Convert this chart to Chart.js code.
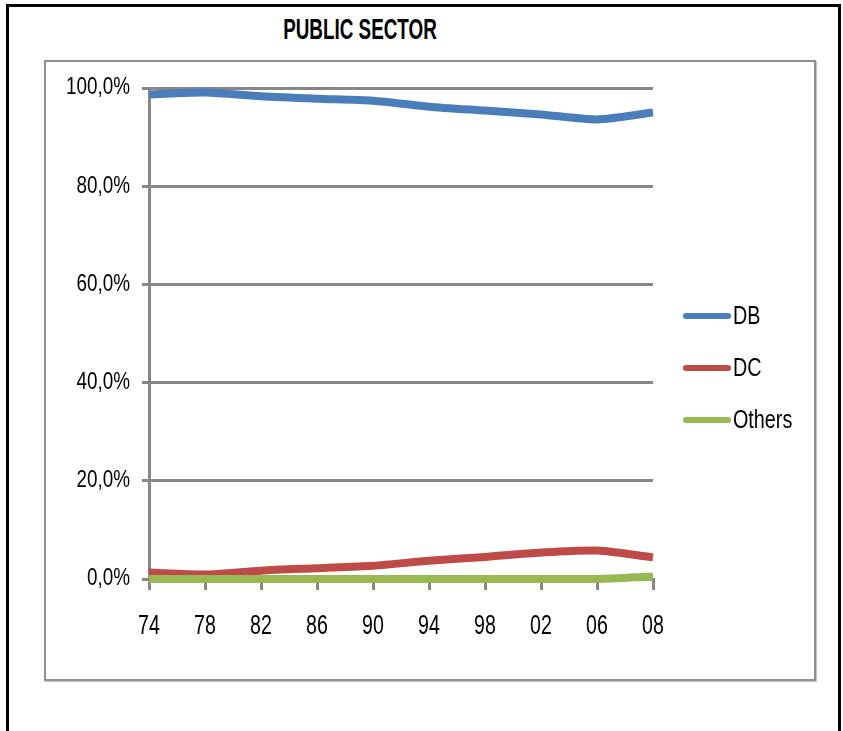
<!DOCTYPE html>
<html>
<head>
<meta charset="utf-8">
<title>Public sector</title>
<script src="https://cdn.jsdelivr.net/npm/chart.js@4.4.1/dist/chart.umd.min.js"></script>
<style>
	body { margin: 0; background: #fff; }
	#page { position: relative; width: 843px; height: 731px; overflow: hidden; }
	#frame { position: absolute; left: 6px; top: 4px; width: 829px; height: 800px; border: 3px solid #000; }
	#box { position: absolute; left: 44px; top: 60px; width: 768px; height: 617px; border: 2px solid #8e8e8e; box-shadow: 1px 1px 1px #c8c8c8; }
	#title {
		position: absolute; left: 0; width: 720px; top: 12px; text-align: center;
		font-family: "Liberation Sans", Arial, sans-serif;
		font-weight: bold; font-size: 29px; line-height: 34px; color: #000;
		transform: scaleX(0.65); transform-origin: 360px 0;
	}
	#chart { position: absolute; left: 0; top: 0; }
</style>
</head>
<body>
<div id="page">
	<div id="frame"></div>
	<div id="box"></div>
	<div id="title">PUBLIC SECTOR</div>
	<canvas id="chart" width="843" height="731"></canvas>
</div>
<script>
/*  Share of public sector plans by type, 1974-2008  */

const years = ['74', '78', '82', '86', '90', '94', '98', '02', '06', '08'];
const seriesNames = ['DB', 'DC', 'Others'];
const dbValues = [98.7, 99.1, 98.3, 97.8, 97.4, 96.2, 95.4, 94.6, 93.6, 95.0];
const dcValues = [1.3, 0.9, 1.7, 2.2, 2.7, 3.7, 4.5, 5.4, 5.8, 4.4];
const otherValues = [0, 0, 0, 0, 0, 0, 0, 0, 0, 0.5];
const yTicks = [0, 20, 40, 60, 80, 100];

const colors = ['#4a7ebb', '#be4b48', '#98b954'];
const font = '"Liberation Sans", Arial, sans-serif';
const gridColor = '#878787';

function pct(v) {
	return v.toFixed(1).replace('.', ',') + '%';
}

// condensed text: plain sans squeezed horizontally
function narrowText(ctx, text, x, y, size, squeeze, align) {
	ctx.save();
	ctx.font = size + 'px ' + font;
	ctx.textAlign = align;
	ctx.textBaseline = 'middle';
	ctx.fillStyle = '#000';
	ctx.translate(x, y);
	ctx.scale(squeeze, 1);
	ctx.fillText(text, 0, 0);
	ctx.restore();
}

// tick labels
const narrowTicks = {
	id: 'narrowTicks',
	afterDraw(chart) {
		let ctx = chart.ctx;
		let xs = chart.scales.x;
		let ys = chart.scales.y;
		ys.ticks.forEach(function (t) {
			narrowText(ctx, pct(t.value), ys.right - 19, ys.getPixelForValue(t.value), 23, 0.82, 'right');
		});
		xs.getLabels().forEach(function (lbl, i) {
			narrowText(ctx, lbl, xs.getPixelForTick(i), xs.top + 47, 28, 0.7, 'center');
		});
	}
};

// legend on the right, line swatch followed by the series name
const sideLegend = {
	id: 'sideLegend',
	afterDraw(chart) {
		let ctx = chart.ctx;
		chart.data.datasets.forEach(function (ds, i) {
			let y = 316 + i * 52;
			ctx.save();
			ctx.lineCap = 'round';
			ctx.lineWidth = 6;
			ctx.strokeStyle = ds.borderColor;
			ctx.beginPath();
			ctx.moveTo(686, y);
			ctx.lineTo(728, y);
			ctx.stroke();
			ctx.restore();
			narrowText(ctx, ds.label, 733, y + 1, 25, 0.79, 'left');
		});
	}
};

let series = [dbValues, dcValues, otherValues];

new Chart(document.getElementById('chart').getContext('2d'), {
	type: 'line',
	data: {
		labels: years,
		datasets: series.map(function (vals, i) {
			return {
				label: seriesNames[i],
				data: vals,
				borderColor: colors[i],
				backgroundColor: colors[i],
				borderWidth: 8,
				pointRadius: 0,
				tension: 0.25,
				clip: false,
				order: 2 - i
			};
		})
	},
	options: {
		responsive: false,
		animation: false,
		devicePixelRatio: 1,
		layout: { padding: { left: 0, right: 190, top: 88, bottom: 60 } },
		plugins: {
			legend: { display: false },
			tooltip: { enabled: false }
		},
		scales: {
			x: {
				offset: false,
				afterFit: function (scale) { scale.height = 92; },
				grid: { drawOnChartArea: false, color: gridColor, lineWidth: 3, tickLength: 11 },
				border: { color: gridColor, width: 3 },
				ticks: { display: false, autoSkip: false }
			},
			y: {
				min: 0,
				max: 100,
				afterFit: function (scale) { scale.width = 149; },
				afterBuildTicks: function (scale) { scale.ticks = yTicks.map(v => ({ value: v })); },
				grid: { color: gridColor, lineWidth: 3, tickLength: 7 },
				border: { color: gridColor, width: 3 },
				ticks: { display: false }
			}
		}
	},
	plugins: [narrowTicks, sideLegend]
});
</script>
</body>
</html>
